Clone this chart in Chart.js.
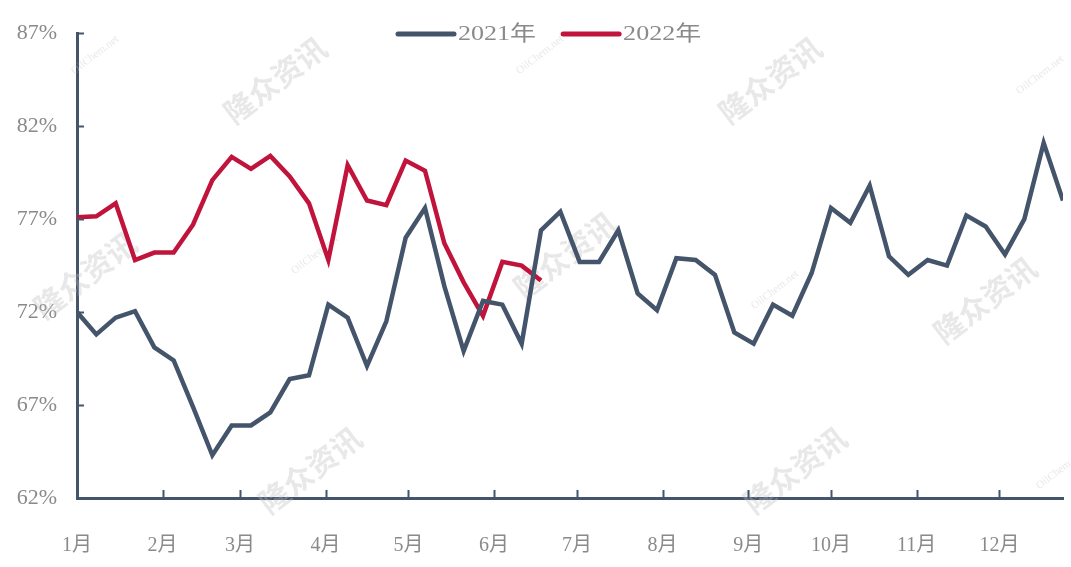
<!DOCTYPE html>
<html>
<head>
<meta charset="utf-8">
<script src="https://cdn.jsdelivr.net/npm/chart.js@4.4.0/dist/chart.umd.min.js"></script>
<style>
html,body{margin:0;padding:0;background:#fff;}
#wrap{width:1071px;height:567px;position:relative;}
</style>
</head>
<body>
<div id="wrap"><canvas id="c" width="1071" height="567"></canvas></div>
<script>
// ---- data ----
const seriesNames = ['2021年', '2022年'];
const monthLabels = ['1月','2月','3月','4月','5月','6月','7月','8月','9月','10月','11月','12月'];
const monthStartDays = [0,31,59,90,120,151,181,212,243,273,304,334];
const yTicks = [62,67,72,77,82,87];
const values2021 = [
  72.0,70.8,71.7,72.05,70.1,69.4,66.9,64.3,65.9,65.9,66.6,68.4,68.6,72.4,71.7,69.1,
  71.5,76.0,77.6,73.4,69.9,72.6,72.4,70.3,76.4,77.4,74.7,74.7,76.4,73.0,72.1,74.9,
  74.8,74.0,70.9,70.3,72.4,71.8,74.1,77.6,76.8,78.8,75.0,74.0,74.8,74.5,77.2,76.6,
  75.1,77.0,81.1,78.0
];
const values2022 = [
  77.1,77.15,77.85,74.8,75.2,75.2,76.7,79.1,80.35,79.7,80.4,79.3,77.85,74.8,79.9,78.0,
  77.75,80.15,79.6,75.7,73.6,71.8,74.7,74.5,73.7
];
const DAYS_PER_WEEK = 7;

const C21 = '#44546a';
const C22 = '#c0143c';
const AXIS = '#44546a';
const TXT = '#8a8a8a';
const FONT = '"Liberation Serif","Noto Sans CJK SC"';

const toPts = arr => arr.map((v,i)=>({x:i*DAYS_PER_WEEK, y:v}));

const innerTicks = {
  id:'innerTicks',
  afterDatasetsDraw(chart){
    const {ctx, chartArea:a, scales:{x,y}} = chart;
    ctx.save();
    ctx.strokeStyle = AXIS; ctx.lineWidth = 2;
    yTicks.forEach(v=>{
      const py = Math.round(y.getPixelForValue(v))+0.5;
      ctx.beginPath(); ctx.moveTo(a.left, py); ctx.lineTo(a.left+7, py); ctx.stroke();
    });
    monthStartDays.slice(1).forEach(d=>{
      const px = Math.round(x.getPixelForValue(d))+0.5;
      ctx.beginPath(); ctx.moveTo(px, a.bottom); ctx.lineTo(px, a.bottom-8); ctx.stroke();
    });
    ctx.restore();
  }
};

const topLegend = {
  id:'topLegend',
  afterDraw(chart){
    const ctx = chart.ctx;
    ctx.save();
    ctx.font = '21px ' + FONT;
    ctx.textBaseline = 'middle';
    ctx.lineCap = 'round';
    const y0 = 34, lineW = 60, gap = 2, itemGap = 25, sx = 1.24;
    let x0 = 396;
    chart.data.datasets.forEach(ds=>{
      const tw = ctx.measureText(ds.label).width * sx;
      ctx.strokeStyle = ds.borderColor; ctx.lineWidth = 5;
      ctx.beginPath(); ctx.moveTo(x0+2, y0); ctx.lineTo(x0+lineW-2, y0); ctx.stroke();
      ctx.save();
      ctx.translate(x0+lineW+gap, y0); ctx.scale(sx,1);
      ctx.fillStyle = TXT; ctx.textAlign='left';
      ctx.fillText(ds.label, 0, 0);
      ctx.restore();
      x0 += lineW + gap + tw + itemGap;
    });
    ctx.restore();
  }
};

const watermark = {
  id:'watermark',
  beforeDatasetsDraw(chart){
    const ctx = chart.ctx;
    ctx.save();
    const big = [[275,80],[770,80],[85,275],[565,255],[985,300],[310,470],[795,470]];
    const small = [[95,55],[540,55],[1040,75],[315,255],[1060,470],[775,290]];
    ctx.fillStyle = 'rgba(190,190,190,0.35)';
    ctx.font = 'bold 30px "Noto Sans CJK SC"';
    ctx.textAlign='center'; ctx.textBaseline='middle';
    big.forEach(([px,py])=>{ ctx.save(); ctx.translate(px,py); ctx.rotate(-0.65); ctx.fillText('隆众资讯',0,0); ctx.restore(); });
    ctx.font = '11px "Liberation Serif"';
    small.forEach(([px,py])=>{ ctx.save(); ctx.translate(px,py); ctx.rotate(-0.65); ctx.fillText('OilChem.net',0,0); ctx.restore(); });
    ctx.restore();
  }
};

new Chart(document.getElementById('c'), {
  type:'line',
  data:{
    datasets:[
      {label:seriesNames[0], data:toPts(values2021), borderColor:C21, backgroundColor:C21, borderWidth:4.5, pointRadius:0, tension:0, borderJoinStyle:'miter'},
      {label:seriesNames[1], data:toPts(values2022), borderColor:C22, backgroundColor:C22, borderWidth:4.5, pointRadius:0, tension:0, borderJoinStyle:'miter'}
    ]
  },
  options:{
    responsive:false, animation:false,
    layout:{padding:{top:18,right:8,bottom:0,left:0}},
    plugins:{
      tooltip:{enabled:false},
      legend:{display:false}
    },
    scales:{
      x:{
        type:'linear', min:0, max:357,
        grid:{display:false, drawTicks:false},
        border:{display:true, color:AXIS, width:3},
        afterBuildTicks:s=>{ s.ticks = monthStartDays.map(v=>({value:v})); },
        afterFit:s=>{ s.height = 69; },
        ticks:{
          color:TXT, padding:36, maxRotation:0, autoSkip:false,
          font:{family:FONT, size:20},
          callback:(v)=>{ const i = monthStartDays.indexOf(v); return i>=0 ? monthLabels[i] : ''; }
        }
      },
      y:{
        min:62, max:87,
        grid:{display:false, drawTicks:false},
        border:{display:true, color:AXIS, width:3},
        afterBuildTicks:s=>{ s.ticks = yTicks.map(v=>({value:v})); },
        afterFit:s=>{ s.width = 77; },
        ticks:{
          color:TXT, padding:20,
          font:{family:'"Liberation Serif"', size:22},
          callback:v=>v+'%'
        }
      }
    }
  },
  plugins:[watermark, innerTicks, topLegend]
});
</script>
</body>
</html>
